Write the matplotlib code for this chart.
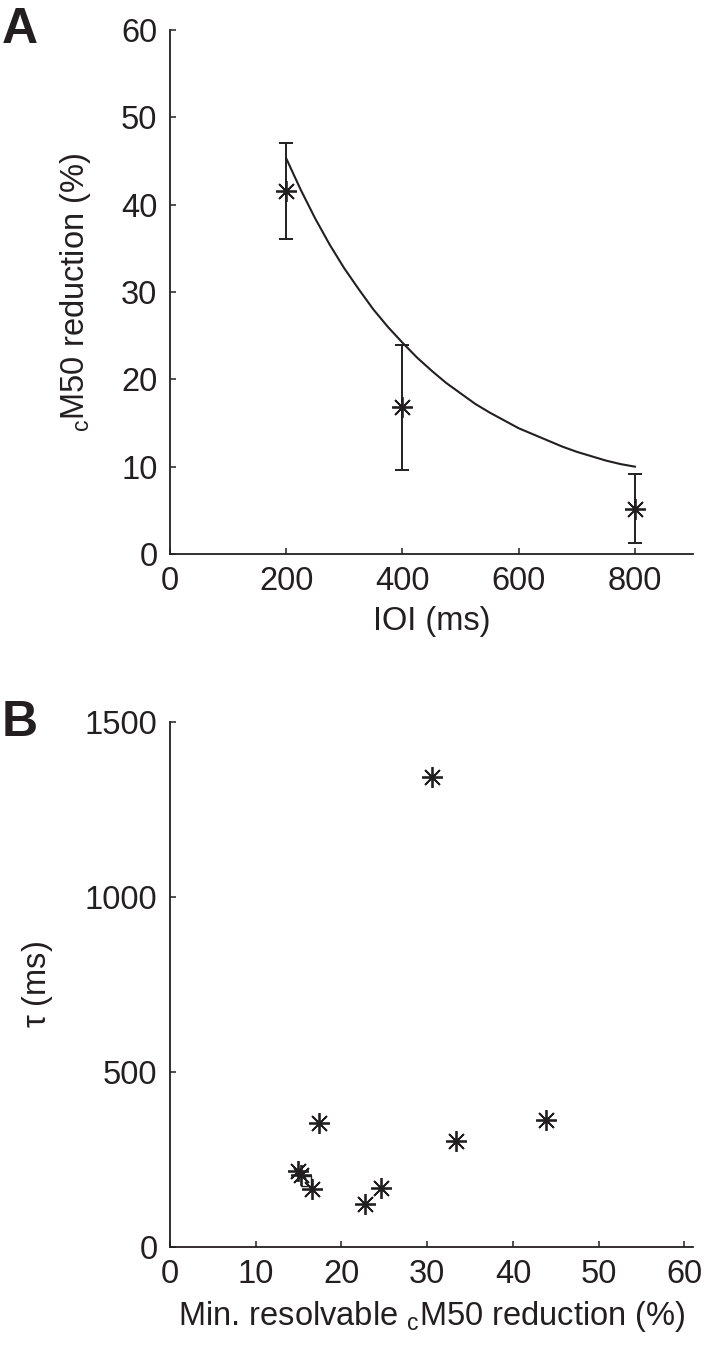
import numpy as np
import matplotlib
matplotlib.use("Agg")
import matplotlib.pyplot as plt

plt.rcParams['font.family'] = ['Liberation Sans', 'DejaVu Sans']
plt.rcParams['mathtext.fontset'] = 'custom'
plt.rcParams['mathtext.rm'] = 'Liberation Sans'
plt.rcParams['mathtext.it'] = 'Liberation Sans'

INK = '#231f20'
FS = 23.5

# panel A: cM50 reduction vs IOI (mean and error bar ends)
ioi = [200, 400, 800]
reduction = [41.6, 16.8, 5.1]
err_low = [36.1, 9.6, 1.3]
err_high = [47.1, 23.9, 9.2]

# fitted curve
fit_ioi = [200, 225, 250, 275, 300, 325, 350, 375, 400, 425, 450, 475, 500,
           525, 550, 575, 600, 625, 650, 675, 700, 725, 750, 775, 800]
fit_red = [45.3, 41.7, 38.4, 35.4, 32.7, 30.3, 28.0, 26.0, 24.2, 22.5, 21.0, 19.6, 18.4,
           17.2, 16.2, 15.3, 14.4, 13.7, 13.0, 12.3, 11.7, 11.2, 10.7, 10.3, 10.0]

# panel B: tau vs min. resolvable reduction
min_red = [17.4, 14.95, 15.3, 16.6, 22.7, 24.6, 33.3, 43.8, 30.6]
tau = [354, 217, 205, 164, 122, 169, 301, 362, 1343]
sq_x = [15.9]
sq_y = [188]

W, H = 723, 1363
fig = plt.figure(figsize=(W / 100, H / 100), dpi=100)

def style_axes(ax):
    for s in ['top', 'right']:
        ax.spines[s].set_visible(False)
    for s in ['left', 'bottom']:
        ax.spines[s].set_linewidth(1.3)
        ax.spines[s].set_color(INK)
    ax.tick_params(direction='in', length=4, width=1.1, colors=INK,
                   labelsize=FS, labelcolor=INK)
    ax.tick_params(axis='x', pad=9)
    ax.tick_params(axis='y', pad=9)

ast = dict(marker=(8, 2, 0), markersize=15, mew=1.3, color=INK, linestyle='none')

# ---- A ----
axA = fig.add_axes([170 / W, 1 - 554 / H, 523 / W, 524 / H])
style_axes(axA)
yerr = [np.array(reduction) - np.array(err_low), np.array(err_high) - np.array(reduction)]
axA.errorbar(ioi, reduction, yerr=yerr, fmt='none', ecolor=INK, elinewidth=1.4,
             capsize=5, capthick=1.4)
axA.plot(ioi, reduction, **ast)
axA.plot(fit_ioi, fit_red, color=INK, linewidth=1.5, solid_joinstyle='round')
axA.set_xlim(0, 900)
axA.set_ylim(0, 60)
axA.set_xticks([0, 200, 400, 600, 800])
axA.set_yticks([0, 10, 20, 30, 40, 50, 60])
axA.set_xlabel('IOI (ms)', fontsize=FS, color=INK)
axA.set_ylabel(r'$_\mathregular{c}$M50 reduction (%)', fontsize=FS, color=INK)
axA.xaxis.set_label_coords(0.5, -0.099)
axA.yaxis.set_label_coords(-0.147, 0.5)

# ---- B ----
axB = fig.add_axes([170 / W, 1 - 1246.7 / H, 523 / W, 525 / H])
style_axes(axB)
axB.plot(sq_x, sq_y, marker='s', markersize=6.5, mfc='none', mec=INK, mew=1.0,
         linestyle='none')
axB.plot(min_red, tau, **ast)
axB.set_xlim(0, 61)
axB.set_ylim(0, 1500)
axB.set_xticks([0, 10, 20, 30, 40, 50, 60])
axB.set_yticks([0, 500, 1000, 1500])
axB.set_xlabel(r'Min. resolvable $_\mathregular{c}$M50 reduction (%)', fontsize=FS, color=INK)
axB.set_ylabel(r'$\mathregular{\tau}$ (ms)', fontsize=FS, color=INK)
axB.xaxis.set_label_coords(0.5, -0.099)
axB.yaxis.set_label_coords(-0.22, 0.5)

fig.text(2 / W, 1 - 43 / H, 'A', fontsize=36, fontweight='bold', color=INK,
         ha='left', va='baseline')
fig.text(2 / W, 1 - 736 / H, 'B', fontsize=36, fontweight='bold', color=INK,
         ha='left', va='baseline')

fig.savefig('out.png', dpi=100)
